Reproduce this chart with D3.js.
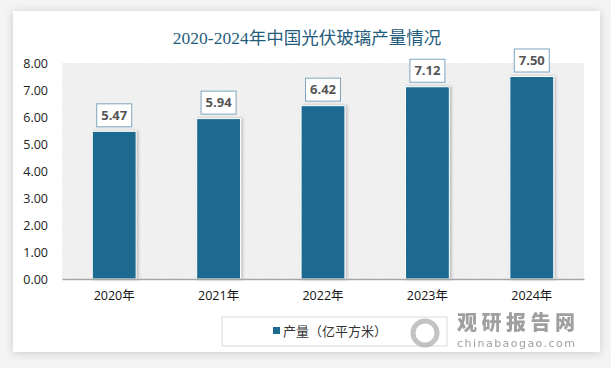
<!DOCTYPE html>
<html><head><meta charset="utf-8">
<script src="https://cdn.jsdelivr.net/npm/d3@7"></script>
<style>
html,body{margin:0;padding:0;background:#f4f4f4;}
svg{display:block;}
</style></head>
<body>
<svg id="c" width="611" height="368"></svg>
<script>
const categories = ["2020年","2021年","2022年","2023年","2024年"];
const values = [5.47, 5.94, 6.42, 7.12, 7.50];
const yTicks = [0,1,2,3,4,5,6,7,8];
const title = "2020-2024年中国光伏玻璃产量情况";
const seriesName = "产量（亿平方米）";

const svg = d3.select("#c");
const defs = svg.append("defs");
const sh = defs.append("filter").attr("id","sh").attr("x","-10%").attr("y","-10%").attr("width","120%").attr("height","120%");
sh.append("feDropShadow").attr("dx",0).attr("dy",1).attr("stdDeviation",4).attr("flood-color","#000").attr("flood-opacity",0.18);
const bsh = defs.append("filter").attr("id","bsh").attr("x","-30%").attr("y","-10%").attr("width","160%").attr("height","120%");
bsh.append("feDropShadow").attr("dx",1.5).attr("dy",0).attr("stdDeviation",1.5).attr("flood-color","#000").attr("flood-opacity",0.25);
const pat = defs.append("pattern").attr("id","hatch").attr("patternUnits","userSpaceOnUse").attr("width",3).attr("height",3);
pat.append("rect").attr("width",3).attr("height",3).attr("fill","#f4f4f4");
pat.append("path").attr("d","M0,3 L3,0").attr("stroke","#e8e8e8").attr("stroke-width",1);

// card
svg.append("rect").attr("x",13).attr("y",11).attr("width",587).attr("height",341).attr("fill","#fff").attr("filter","url(#sh)");

const m = {l:62, r:584, t:63, b:279};
const x = d3.scaleBand().domain(categories).range([m.l, m.r]).paddingInner(0.58).paddingOuter(0.29);
const y = d3.scaleLinear().domain([0,8]).range([m.b, m.t]);

svg.append("rect").attr("x",m.l).attr("y",m.t).attr("width",m.r-m.l).attr("height",m.b-m.t).attr("fill","url(#hatch)");

svg.append("text").attr("x",307).attr("y",44).attr("text-anchor","middle")
  .attr("font-family","'Liberation Serif','Noto Sans CJK SC',serif").attr("font-size",17.5).attr("fill","#1f5c7c").text(title);

// y axis
const ya = svg.append("g").attr("transform",`translate(${m.l},0)`)
  .call(d3.axisLeft(y).tickValues(yTicks).tickFormat(d3.format(".2f")).tickSize(0).tickPadding(14));
ya.select(".domain").remove();
ya.selectAll("text").attr("font-family","'Open Sans','Liberation Sans',sans-serif").attr("font-size",12.5).attr("fill","#222");

// bars
svg.append("g").selectAll("rect").data(values).join("rect")
  .attr("x",(d,i)=>x(categories[i])).attr("y",d=>y(d))
  .attr("width",x.bandwidth()).attr("height",d=>y(0)-y(d))
  .attr("fill","#1b6b8f").attr("stroke","#fff").attr("stroke-width",1).attr("filter","url(#bsh)");

// x axis
const xa = svg.append("g").attr("transform",`translate(0,${m.b})`)
  .call(d3.axisBottom(x).tickSize(0).tickPadding(12));
xa.select(".domain").attr("stroke","#a6a6a6").attr("stroke-width",1.5);
xa.selectAll("text").attr("font-family","'Open Sans','Noto Sans CJK SC',sans-serif").attr("font-size",12.5).attr("fill","#111");

// labels
const lg = svg.append("g").selectAll("g").data(values).join("g")
  .attr("transform",(d,i)=>`translate(${x(categories[i])+x.bandwidth()/2},${y(d)-16})`);
lg.append("rect").attr("x",-17.5).attr("y",-11.5).attr("width",35).attr("height",23)
  .attr("fill","#fff").attr("stroke","#7ea6bf").attr("stroke-width",1);
lg.append("text").attr("text-anchor","middle").attr("dy","0.36em")
  .attr("font-family","'Open Sans','Liberation Sans',sans-serif").attr("font-weight","bold").attr("font-size",13).attr("fill","#555").text(d=>d.toFixed(2));

// legend
svg.append("rect").attr("x",222).attr("y",317).attr("width",225).attr("height",29).attr("fill","#fff").attr("stroke","#d9d9d9");
svg.append("rect").attr("x",273).attr("y",327).attr("width",7).attr("height",7).attr("fill","#1b6b8f");
svg.append("text").attr("x",283).attr("y",336).attr("font-family","'Liberation Serif','Noto Sans CJK SC',serif").attr("font-size",13).attr("fill","#333").text(seriesName);

// watermark
const wm = svg.append("g").attr("opacity",0.7);
wm.append("circle").attr("cx",425).attr("cy",333).attr("r",12).attr("fill","none").attr("stroke","#aaa").attr("stroke-width",5);
wm.append("text").attr("x",457).attr("y",330).attr("font-family","'Noto Sans CJK SC',sans-serif").attr("font-weight","900").attr("font-size",20).attr("fill","#777").attr("textLength",118).text("观研报告网");
wm.append("text").attr("x",457).attr("y",347).attr("font-family","'DejaVu Sans',sans-serif").attr("font-size",11).attr("fill","#777").attr("textLength",118).text("chinabaogao.com");
</script>
</body></html>
